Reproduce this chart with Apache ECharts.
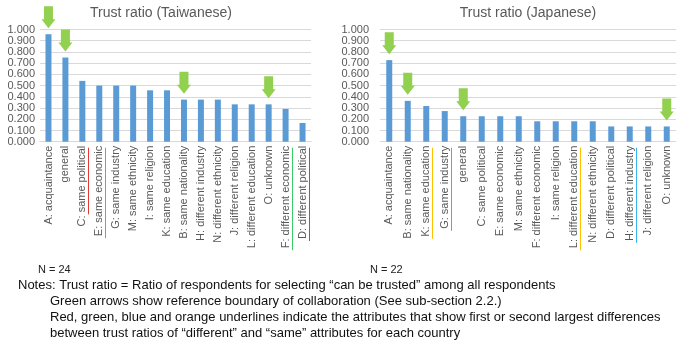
<!DOCTYPE html>
<html>
<head>
<meta charset="utf-8">
<script src="https://cdn.jsdelivr.net/npm/echarts@6/dist/echarts.min.js"></script>
<style>
  html, body { margin: 0; padding: 0; background: #fff; }
  #main { width: 677px; height: 342px; }
</style>
</head>
<body>
<div id="main"></div>
<script>
// data
const twCats = ['A: acquaintance', 'general', 'C: same political', 'E: same economic', 'G: same industry',
  'M: same ethnicity', 'I: same religion', 'K: same education', 'B: same nationality', 'H: different industry',
  'N: different ethnicity', 'J: different religion', 'L: different education', 'O: unknown',
  'F: different economic', 'D: different political']
const twVals = [0.958, 0.750, 0.542, 0.500, 0.500, 0.500, 0.458, 0.458, 0.375, 0.375, 0.375, 0.333, 0.333, 0.333, 0.292, 0.167]

const jpCats = ['A: acquaintance', 'B: same nationality', 'K: same education', 'G: same industry', 'general',
  'C: same political', 'E: same economic', 'M: same ethnicity', 'F: different economic', 'I: same religion',
  'L: different education', 'N: different ethnicity', 'D: different political', 'H: different industry',
  'J: different religion', 'O: unknown']
const jpVals = [0.727, 0.364, 0.318, 0.273, 0.227, 0.227, 0.227, 0.227, 0.182, 0.182, 0.182, 0.182, 0.136, 0.136, 0.136, 0.136]

// green arrows
const twArrows = ['A: acquaintance', 'general', 'B: same nationality', 'O: unknown']
const jpArrows = ['A: acquaintance', 'B: same nationality', 'general', 'O: unknown']

// underlined labels: [chart, category, underlined part, colour]
const underlines = [
  [0, 'C: same political', 'same political', '#e53935'],
  [0, 'D: different political', 'D: different political', '#e53935'],
  [0, 'E: same economic', 'E: same economic', '#3ccb6a'],
  [0, 'F: different economic', 'F: different economic', '#3ccb6a'],
  [1, 'K: same education', 'K: same education', '#ffc000'],
  [1, 'L: different education', 'L: different education', '#ffc000'],
  [1, 'G: same industry', 'G: same industry', '#33b5ee'],
  [1, 'H: different industry', 'H: different industry', '#33b5ee']
]

const notes = [
  'Notes: Trust ratio = Ratio of respondents for selecting \u201ccan be trusted\u201d among all respondents',
  'Green arrows show reference boundary of collaboration (See sub-section 2.2.)',
  'Red, green, blue and orange underlines indicate the attributes that show first or second largest differences',
  'between trust ratios of \u201cdifferent\u201d and \u201csame\u201d attributes for each country'
]

const FONT = '"Liberation Sans", Arial, sans-serif'
const GREY = '#595959'
const arrowPath = 'path://M2.5,0 L11.5,0 L11.5,13 L14,13 L7,22 L0,13 L2.5,13 Z'

let myChart = echarts.init(document.getElementById('main'))

function xAxisOf(cats, idx) {
  return {
    type: 'category',
    gridIndex: idx,
    data: cats,
    axisTick: { show: false },
    axisLine: { lineStyle: { color: '#d9d9d9' } },
    axisLabel: { rotate: 90, interval: 0, margin: 4, fontSize: 11, color: GREY, fontFamily: FONT }
  }
}

function yAxisOf(idx, margin) {
  return {
    type: 'value',
    gridIndex: idx,
    min: 0,
    max: 1,
    interval: 0.1,
    axisLine: { show: false },
    axisTick: { show: false },
    splitLine: { lineStyle: { color: '#d9d9d9' } },
    axisLabel: {
      margin: margin, fontSize: 11, color: GREY, fontFamily: FONT,
      showMinLabel: true, showMaxLabel: true,
      formatter: v => v.toFixed(3)
    }
  }
}

function barOf(cats, vals, arrows, idx) {
  return {
    type: 'bar',
    xAxisIndex: idx,
    yAxisIndex: idx,
    data: vals,
    barWidth: 6,
    itemStyle: { color: '#5b9bd5' },
    markPoint: {
      silent: true,
      symbol: arrowPath,
      symbolSize: [14, 22],
      symbolOffset: [0, -17],
      itemStyle: { color: '#92d050' },
      label: { show: false },
      data: arrows.map(c => ({ coord: [c, vals[cats.indexOf(c)]] }))
    }
  }
}

let opt = {
  animation: false,
  title: [
    { text: 'Trust ratio (Taiwanese)', left: 156, top: 1, textAlign: 'center',
      textStyle: { fontSize: 14, fontWeight: 'normal', color: GREY, fontFamily: FONT } },
    { text: 'Trust ratio (Japanese)', left: 523, top: 1, textAlign: 'center',
      textStyle: { fontSize: 14, fontWeight: 'normal', color: GREY, fontFamily: FONT } }
  ],
  grid: [
    { left: 40, right: 366, top: 29.5, bottom: 200.3 },
    { left: 380, right: 1, top: 29.5, bottom: 200.3 }
  ],
  xAxis: [xAxisOf(twCats, 0), xAxisOf(jpCats, 1)],
  yAxis: [yAxisOf(0, 5), yAxisOf(1, 11)],
  series: [barOf(twCats, twVals, twArrows, 0), barOf(jpCats, jpVals, jpArrows, 1)]
}

myChart.setOption(opt)

// underlines + notes
let ctx = document.createElement('canvas').getContext('2d')
ctx.font = '11px ' + FONT
let graphics = []
underlines.forEach(u => {
  let p = myChart.convertToPixel({ gridIndex: u[0] }, [u[1], 0])
  let len = ctx.measureText(u[2]).width
  let x = Math.round(p[0]) + 6.5
  let y0 = p[1] + 6
  graphics.push({
    type: 'line', silent: true,
    shape: { x1: x, y1: y0, x2: x, y2: y0 + len },
    style: { stroke: u[3], lineWidth: 1 }
  })
})
graphics.push({ type: 'text', left: 38, top: 264, style: { text: 'N = 24', fontSize: 11, fill: '#222', fontFamily: FONT } })
graphics.push({ type: 'text', left: 370, top: 264, style: { text: 'N = 22', fontSize: 11, fill: '#222', fontFamily: FONT } })
notes.forEach((t, i) => {
  graphics.push({
    type: 'text', left: i === 0 ? 18 : 50, top: 279 + i * 16,
    style: { text: t, fontSize: 13, fill: '#111', fontFamily: FONT }
  })
})
myChart.setOption({ graphic: graphics })
</script>
</body>
</html>
